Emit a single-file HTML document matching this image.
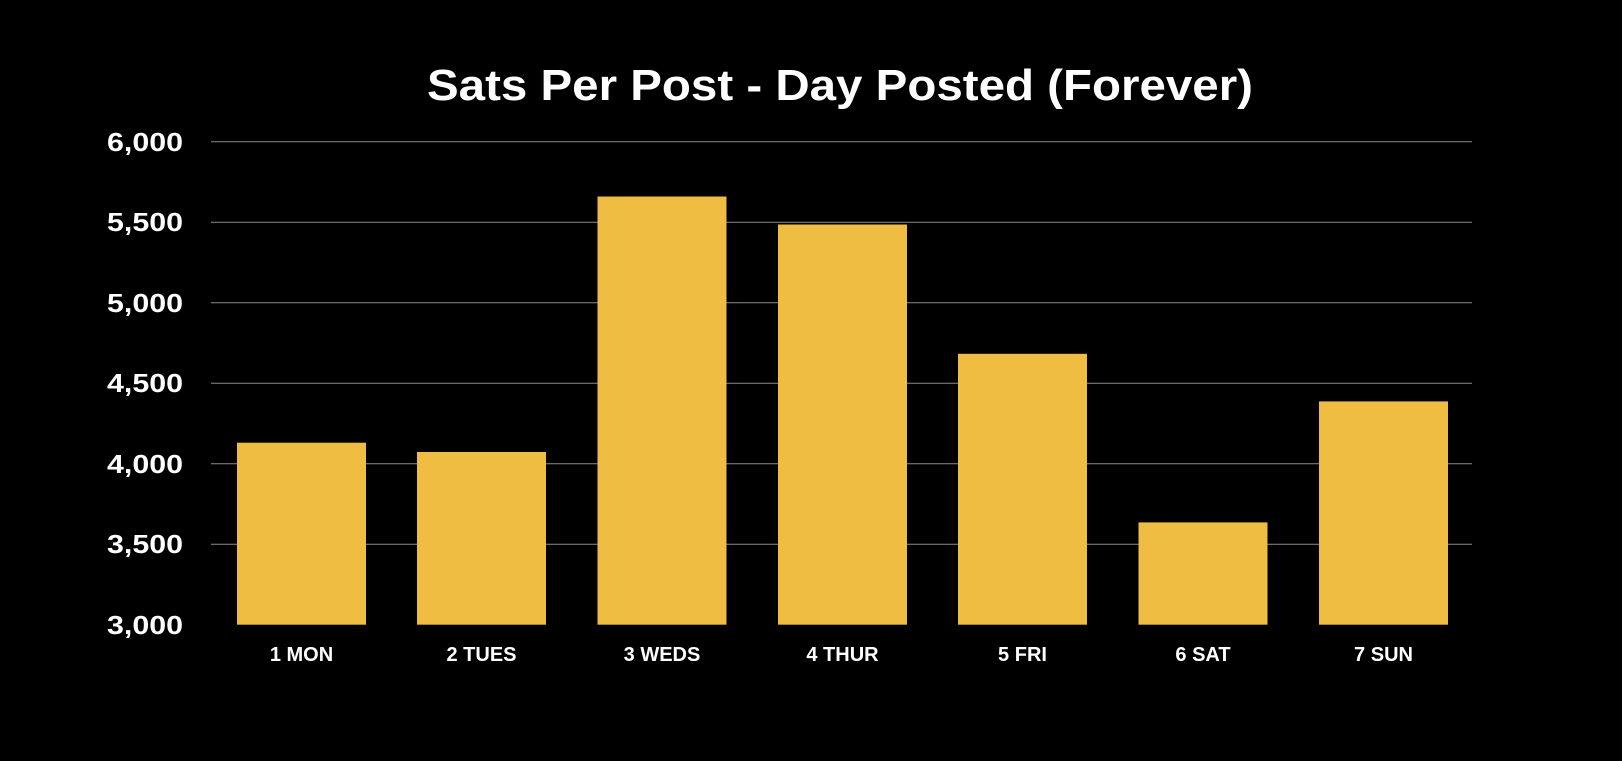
<!DOCTYPE html>
<html><head><style>
body{margin:0;background:#000;width:1622px;height:756px;overflow:hidden}
svg text{font-family:"Liberation Sans",sans-serif;font-weight:bold;fill:#fff}
</style></head><body>
<svg width="1622" height="756" xmlns="http://www.w3.org/2000/svg">
<rect width="1622" height="756" fill="#000"/>
<text x="840" y="100" font-size="44" text-anchor="middle" textLength="826" lengthAdjust="spacingAndGlyphs">Sats Per Post - Day Posted (Forever)</text>
<g stroke="#8a8a8a" stroke-width="1">
<line x1="211" x2="1472" y1="141.7" y2="141.7"/>
<line x1="211" x2="1472" y1="222.2" y2="222.2"/>
<line x1="211" x2="1472" y1="302.7" y2="302.7"/>
<line x1="211" x2="1472" y1="383.2" y2="383.2"/>
<line x1="211" x2="1472" y1="463.7" y2="463.7"/>
<line x1="211" x2="1472" y1="544.2" y2="544.2"/>
</g>
<g font-size="26" text-anchor="end">
<text x="183" y="151" textLength="76" lengthAdjust="spacingAndGlyphs">6,000</text>
<text x="183" y="231" textLength="76" lengthAdjust="spacingAndGlyphs">5,500</text>
<text x="183" y="312" textLength="76" lengthAdjust="spacingAndGlyphs">5,000</text>
<text x="183" y="392" textLength="76" lengthAdjust="spacingAndGlyphs">4,500</text>
<text x="183" y="473" textLength="76" lengthAdjust="spacingAndGlyphs">4,000</text>
<text x="183" y="553" textLength="76" lengthAdjust="spacingAndGlyphs">3,500</text>
<text x="183" y="634" textLength="76" lengthAdjust="spacingAndGlyphs">3,000</text>
</g>
<g fill="#eebd41">
<rect x="237" y="442.7" width="129" height="182"/>
<rect x="417" y="452" width="129" height="172.7"/>
<rect x="597.5" y="196.5" width="129" height="428.2"/>
<rect x="778" y="224.5" width="129" height="400.2"/>
<rect x="958" y="353.8" width="129" height="270.9"/>
<rect x="1138.5" y="522.4" width="129" height="102.3"/>
<rect x="1319" y="401.4" width="129" height="223.3"/>
</g>
<g font-size="20" text-anchor="middle">
<text x="301.5" y="661">1 MON</text>
<text x="481.5" y="661">2 TUES</text>
<text x="662" y="661">3 WEDS</text>
<text x="842.5" y="661">4 THUR</text>
<text x="1022.5" y="661">5 FRI</text>
<text x="1203" y="661">6 SAT</text>
<text x="1383.5" y="661">7 SUN</text>
</g>
</svg>
</body></html>
